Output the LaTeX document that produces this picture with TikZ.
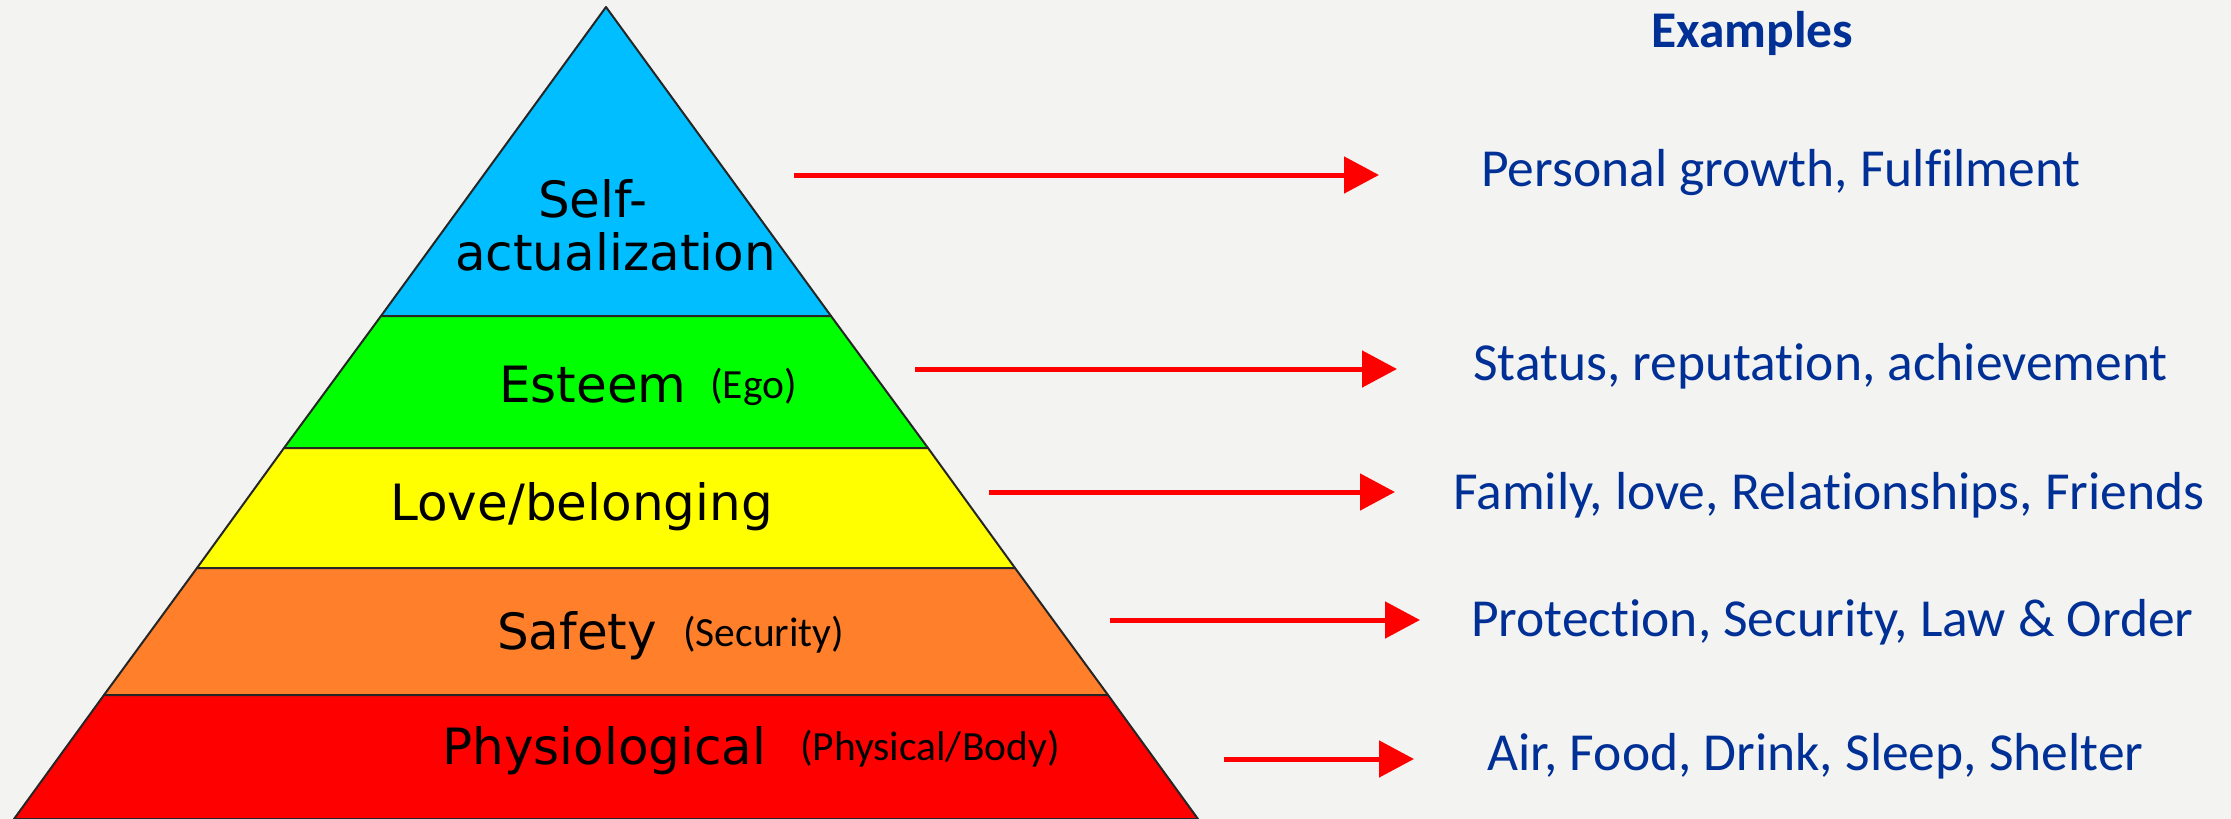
\documentclass[tikz,border=0pt]{standalone}
\usepackage{fontspec}
\setmainfont{DejaVu Sans}
\newfontfamily\calib[Ligatures=NoCommon]{Carlito}
\usetikzlibrary{arrows.meta}
\definecolor{fond}{RGB}{243,243,241}
\definecolor{bleuciel}{RGB}{0,190,255}
\definecolor{vertvif}{RGB}{0,255,0}
\definecolor{jaunevif}{RGB}{255,255,0}
\definecolor{orangevif}{RGB}{255,127,42}
\definecolor{rougevif}{RGB}{255,0,0}
\definecolor{bleutexte}{RGB}{0,48,150}
\tikzset{
  niveau/.style={draw=black!85, line width=2pt, line join=round},
  lbl/.style={inner sep=0pt, anchor=base west, font=\fontsize{50}{55}\selectfont},
  precis/.style={inner sep=0pt, anchor=base west, font=\calib\fontsize{41.5}{45}\selectfont},
  exemple/.style={inner sep=0pt, anchor=base west, text=bleutexte, font=\calib\fontsize{53.5}{58}\selectfont},
  fleche/.style={draw=rougevif, line width=5pt, -{Triangle[length=35pt,width=36pt]}}
}
\begin{document}
\begin{tikzpicture}[x=1pt,y=-1pt]
            \fill[fond] (0,0) rectangle (2231,819); %Fond
            \useasboundingbox (0,0) rectangle (2231,819);
            \draw[niveau, fill=bleuciel] (606,7) -- (831,316) -- (381,316) -- cycle; %Sommet
            \draw[niveau, fill=vertvif] (381,316) -- (831,316) -- (928,448) -- (284,448) -- cycle; %Estime
            \draw[niveau, fill=jaunevif] (284,448) -- (928,448) -- (1015,568) -- (197,568) -- cycle; %Appartenance
            \draw[niveau, fill=orangevif] (197,568) -- (1015,568) -- (1108,695) -- (104,695) -- cycle; %Securite
            \draw[niveau, fill=rougevif] (104,695) -- (1108,695) -- (1198,819) -- (14,819) -- cycle; %Base
            \node[lbl] (selfa) at (538,217) {Self-};
            \node[lbl] (selfb) at (455,270) {actualization};
            \node[lbl] (esteem) at (499,402) {Esteem};
            \node[precis] (ego) at (710,398) {(Ego)};
            \node[lbl] (love) at (390,520) {Love/belonging};
            \node[lbl] (safety) at (497,649) {Safety};
            \node[precis] (secu) at (683,646) {(Security)};
            \node[lbl] (physio) at (442,764) {Physiological};
            \node[precis] (body) at (800,760) {(Physical/Body)};
            \node[exemple, font=\calib\bfseries\fontsize{51.5}{55}\selectfont] (titre) at (1651,47) {Examples};
            \node[exemple] (ex1) at (1481,186) {Personal growth, Fulfilment};
            \node[exemple] (ex2) at (1473,380) {Status, reputation, achievement};
            \node[exemple] (ex3) at (1453,509) {Family, love, Relationships, Friends};
            \node[exemple] (ex4) at (1471,636) {Protection, Security, Law \& Order};
            \node[exemple] (ex5) at (1487,770) {Air, Food, Drink, Sleep, Shelter};
            \coordinate (a1) at (794,175); \coordinate (b1) at (1379,175);
            \coordinate (a2) at (915,369); \coordinate (b2) at (1397,369);
            \coordinate (a3) at (989,492); \coordinate (b3) at (1395,492);
            \coordinate (a4) at (1110,620); \coordinate (b4) at (1420,620);
            \coordinate (a5) at (1224,759); \coordinate (b5) at (1414,759);
            \draw[fleche] (a1) -- (b1);
            \draw[fleche] (a2) -- (b2);
            \draw[fleche] (a3) -- (b3);
            \draw[fleche] (a4) -- (b4);
            \draw[fleche] (a5) -- (b5);
        \end{tikzpicture}
\end{document}
